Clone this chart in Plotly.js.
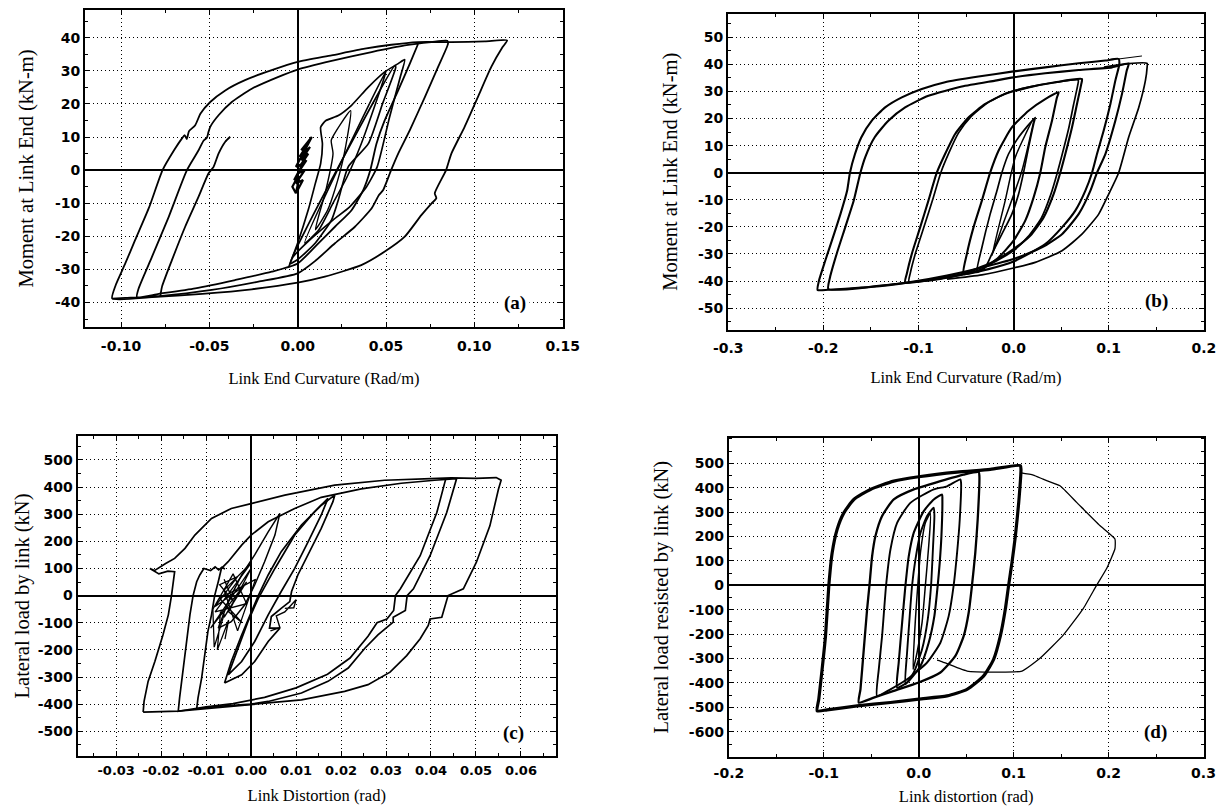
<!DOCTYPE html>
<html>
<head>
<meta charset="utf-8">
<script src="https://cdn.plot.ly/plotly-3.0.1.min.js"></script>
<style>html,body{margin:0;padding:0;background:#fff;}#chart{width:1223px;height:810px;}</style>
</head>
<body>
<div id="chart"></div>
<script>
// ---------------- Panel (a): Moment vs Link End Curvature ----------------
const aOuterX = [-0.105,-0.103,-0.0976,-0.092,-0.084,-0.0765,-0.070,-0.0655,-0.064,-0.0628,-0.0615,-0.058,-0.055,-0.0495,-0.041,-0.0298,-0.0147,0,0.0192,0.038,0.053,0.068,0.087,0.106,0.1186,0.116,0.1096,0.102,0.0945,0.087,0.084,0.0776,0.0785,0.0757,0.070,0.0606,0.0493,0.036,0.0154,0,-0.026,-0.054,-0.0825,-0.105];
const aOuterY = [-38.8,-34.7,-28.2,-21.1,-11.1,0,6.0,9.6,10.6,9.4,11.8,13.6,17.1,20.6,24.1,27.2,30.2,32.7,34.7,36.7,37.9,38.7,38.7,38.9,39.2,37.2,31.2,22.1,13.1,5.0,0,-7.0,-8.5,-10.1,-13.6,-20.1,-24.6,-28.7,-32.2,-34.0,-36.0,-37.4,-38.4,-38.8];
const aMidX = [0.0682,0.0635,0.0569,0.0493,0.0446,0.0411,0.0371,0.0305,0.0211,0.0117,0,-0.0147,-0.0354,-0.058,-0.0787,-0.091,
  -0.090,-0.0825,-0.073,-0.0627,-0.0561,-0.0533,-0.0514,-0.0505,-0.0495,-0.0448,-0.0373,-0.026,-0.0109,0,0.0192,0.0418,0.0606,0.0757,0.0847,
  0.0851,0.0795,0.072,0.0635,0.0569,0.0529,0.0484,0.046,0.0445,0.0418,0.0324,0.0211,0.0098,0,-0.0222,-0.0486,-0.0768,-0.0976,-0.105];
const aMidY = [38.2,32.2,24.1,15.1,8.0,0,-6.0,-12.1,-17.1,-22.1,-28.2,-30.7,-33.2,-35.7,-37.4,-38.4,
  -35.7,-26.2,-14.1,0,6.0,8.9,9.8,11.5,13.1,16.6,20.6,24.6,28.2,30.4,33.0,35.7,37.7,38.7,39.1,
  38.2,31.2,22.1,12.1,5.0,0,-6.0,-7.5,-9.0,-11.6,-17.1,-22.1,-27.5,-31.2,-33.7,-36.2,-38.0,-38.6,-38.8];
const aPartialX = [-0.0778,-0.0768,-0.0712,-0.0637,-0.0561,-0.0505,-0.0476,-0.0448,-0.041,-0.0382];
const aPartialY = [-38.2,-35.2,-27.2,-17.1,-8.0,-1.0,1.0,5.0,8.6,10.1];
const aIn1X = [-0.005,0.000,0.006,0.010,0.013,0.014,0.013,0.016,0.023,0.0305,0.040,0.0493,0.0569,0.0606,0.058,0.052,0.045,0.039,0.0296,0.0201,0.007,-0.0026,-0.005];
const aIn1Y = [-29.2,-22,-12,-4,2,8,13,15,16.5,19.6,25.1,29.7,32.2,33.4,28,16,1,-5,-11,-15,-21,-26.2,-29.2];
const aIn2X = [-0.0043,0.0551,0.0555,0.048,0.040,0.0286,0.023,0.0192,0.010,0,-0.0043];
const aIn2Y = [-28.2,31.7,31.0,20,8,1,-9,-15,-22,-27,-28.2];
const aIn3X = [0.004,0.050,0.049,0.044,0.036,0.028,0.020,0.012,0.004];
const aIn3Y = [-22,30,28,20,8,-2,-10,-18,-22];
const aIn4X = [0.010,0.016,0.020,0.019,0.022,0.030,0.026,0.021,0.017,0.010];
const aIn4Y = [-18,-6,5,9,12,18,4,-6,-12,-18];
const aBlobX = [0.000,0.003,-0.001,0.004,0.000,0.005,0.001,0.006,0.002,0.007,0.003,0.008,0.002,0.006,0.001,0.004,-0.001,0.003,-0.002,0.001,-0.001,-0.003,0.000];
const aBlobY = [-6,-3,-4,0,-1,3,1,5,3,7,5,10,6,8,4,6,1,2,-3,-2,-7,-5,-2];

// ---------------- Panel (b): Moment vs Link End Curvature ----------------
const bLoop1X = [-0.206,-0.2046,-0.198,-0.191,-0.182,-0.175,-0.172,-0.1667,-0.16,-0.149,-0.135,-0.1175,-0.0965,-0.072,-0.0368,0,0.0333,0.0684,0.0965,0.1105,0.1112,0.107,0.1018,0.0947,0.0877,0.0825,0.0754,0.0649,0.0509,0.0333,0.0158,0,-0.0263,-0.0544,-0.0895,-0.1246,-0.1596,-0.1947,-0.206];
const bLoop1Y = [-43.3,-39.9,-32.5,-25.1,-15.3,-6.7,0,6.9,13.1,19.2,24.1,27.8,30.9,33.4,35.5,37.4,38.9,40.4,41.4,42.0,40.1,34.0,25.4,15.5,6.9,0,-6.7,-14.0,-20.2,-26.4,-30.0,-32.8,-35.6,-37.7,-39.7,-41.1,-42.4,-43.2,-43.3];
const bLoop2X = [-0.1947,-0.193,-0.186,-0.177,-0.168,-0.161,-0.156,-0.146,-0.1316,-0.114,-0.0895,-0.0544,-0.0193,0,0.0333,0.0684,0.1035,0.121,0.119,0.114,0.107,0.0965,0.0877,0.0807,0.0684,0.0509,0.0298,0,-0.0333,-0.07,-0.11,-0.15,-0.1947];
const bLoop2Y = [-43.0,-38.7,-30.0,-20.2,-10.3,0,5.7,13.1,19.2,24.1,28.4,31.8,34.0,35.2,36.7,37.9,38.9,40.3,37.7,29.1,19.2,6.9,0,-6.7,-15.3,-22.7,-27.6,-31.9,-35.0,-38.0,-40.5,-42.2,-43.0];
const bLoop3X = [0.095,0.121,0.1404,0.1404,0.1386,0.1316,0.121,0.1105,0.1,0.0895,0.0719,0.0509,0.0228,0,-0.0333,-0.07];
const bLoop3Y = [39.0,40.3,40.4,39.0,34.0,24.1,13.1,0,-7.9,-15.3,-22.7,-28.8,-33.1,-35.2,-37.7,-39.3];
const bTailX = [0.1105,0.135];
const bTailY = [42.0,43.1];
const bLoop4X = [-0.114,-0.1123,-0.107,-0.0982,-0.0895,-0.0807,-0.072,-0.0614,-0.0474,-0.0298,-0.0088,0.0158,0.0439,0.0719,0.0712,0.0667,0.0614,0.0544,0.0491,0.0421,0.0316,0.0175,0,-0.0228,-0.0544,-0.0895,-0.114];
const bLoop4Y = [-40.5,-37.4,-30.0,-20.2,-10.3,0,6.9,14.3,20.4,25.4,29.1,31.5,33.4,34.6,32.8,25.4,16.7,6.9,0,-7.9,-16.5,-23.3,-28.2,-33.1,-37.4,-39.7,-40.5];
const bLoop4bX = [-0.110,-0.1085,-0.103,-0.094,-0.085,-0.0765,-0.068,-0.058,-0.045,-0.028,-0.008,0.016,0.043,0.068,0.0675,0.063,0.058,0.051,0.046,0.039,0.029,0.015,0,-0.024,-0.056,-0.090,-0.110];
const bLoop4bY = [-40.2,-37.0,-29.6,-19.8,-9.9,0,7.3,14.6,20.6,25.6,29.3,31.6,33.3,34.2,32.4,25.0,16.4,6.6,0,-8.2,-16.9,-23.7,-28.8,-33.6,-37.8,-39.9,-40.2];
const bLoop5X = [-0.0526,-0.0491,-0.0421,-0.0333,-0.0246,-0.0158,-0.0018,0.0158,0.0333,0.0474,0.0456,0.0404,0.0333,0.0281,0.0211,0.0123,0,-0.0158,-0.0333,-0.0526];
const bLoop5Y = [-37.4,-30.0,-20.2,-10.3,0,8.1,16.7,22.9,27.2,29.7,27.8,19.2,9.4,0,-9.1,-17.7,-25.1,-31.3,-35.6,-37.4];
const bLoop6X = [-0.0386,-0.0333,-0.0246,-0.0175,-0.0123,-0.0053,0.0053,0.0228,0.0211,0.0158,0.0105,0.0053,-0.0018,-0.0123,-0.0228,-0.0298,-0.0386];
const bLoop6Y = [-36.8,-27.6,-15.3,-6.7,0,6.9,13.1,20.4,18.0,9.4,0,-7.9,-15.3,-22.7,-30.0,-35.0,-36.8];
const bLoop7X = [-0.0228,-0.0088,0.0018,0.021,0.0088,-0.0123,-0.0228];
const bLoop7Y = [-30.7,-10.3,5.7,19.8,0.7,-20.2,-30.7];

// ---------------- Panel (c): Lateral load vs Link Distortion ----------------
const cOuterX = [-0.024,-0.0238,-0.0229,-0.0214,-0.0196,-0.0184,-0.0177,-0.0171,-0.017,-0.0185,-0.0205,-0.0225,-0.0215,-0.019,-0.017,-0.0147,-0.0125,-0.0088,-0.0044,0,0.0075,0.0186,0.0297,0.04,0.0445,0.050,0.0545,0.0556,0.055,0.0531,0.0501,0.0472,0.0438,0.0424,0.0398,0.0394,0.0376,0.0346,0.0309,0.026,0.0208,0.0112,0,-0.0073,-0.0162,-0.024];
const cOuterY = [-429,-390,-316,-243,-145,-71,0,64,88,90,80,100,92,118,137,174,223,284,321,339,370,407,425,431,434,432,435,425,392,257,123,25,0,-80,-86,-110,-159,-221,-282,-328,-353,-384,-402,-412,-426,-429];
const cLoop2X = [-0.0121,-0.0118,-0.011,-0.0103,-0.0096,-0.0088,-0.0081,-0.0073,-0.0066,-0.0051,-0.0021,0,0.0038,0.0097,0.0156,0.0245,0.0334,0.0408,0.0457,0.0435,0.0398,0.0361,0.0347,0.0343,0.0316,0.0316,0.0282,0.0253,0.0216,0.0171,0.0112,0.0038,0,-0.0073,-0.0121];
const cLoop2Y = [-417,-377,-304,-218,-132,-71,0,51,100,125,186,223,272,321,362,393,414,425,431,306,147,25,0,-55,-80,-98,-145,-194,-267,-316,-359,-390,-400,-408,-417];
const cLoop3X = [0.0433,0.0413,0.0376,0.0332,0.0321,0.0317,0.0302,0.028,0.026,0.022,0.017,0.010,0.003,-0.004,-0.010,-0.0162,-0.0159,-0.0151,-0.0144,-0.0136,-0.0129,-0.0121,-0.0114,-0.0105,-0.009,-0.008,-0.0072,-0.0065,-0.0058];
const cLoop3Y = [431,306,147,25,0,-55,-86,-100,-150,-230,-290,-340,-375,-398,-410,-426,-377,-267,-169,-71,0,51,76,100,92,106,95,104,98];
const cIn1X = [-0.0059,-0.0044,-0.0021,0,0.0016,0.0038,0.0067,0.0112,0.0156,0.0186,0.0182,0.0156,0.0127,0.0104,0.009,0.0086,0.0067,0.0045,0.0041,0.0064,0.0038,0.0008,-0.0021,-0.0059];
const cIn1Y = [-322,-243,-145,-59,0,76,162,260,333,370,346,248,150,76,15,-22,-47,-77,-120,-120,-169,-243,-292,-322];
const cIn2X = [-0.0051,-0.0029,-0.0007,0.0016,0.0053,0.0097,0.0141,0.0171,0.0156,0.0127,0.0097,0.0067,0.0038,0.0008,-0.0021,-0.0051];
const cIn2Y = [-292,-194,-96,-10,100,223,309,358,297,199,100,15,-71,-169,-243,-292];
const cIn3X = [-0.0073,-0.0051,-0.0021,0.0008,0.0038,0.0064,0.0053,0.003,0.0008,-0.0014,-0.0044,-0.0073];
const cIn3Y = [-120,-22,76,150,235,303,223,125,39,-34,-96,-120];
const cNoiseX = [-0.006,-0.004,-0.007,-0.003,-0.008,-0.002,-0.006,-0.001,-0.009,-0.004,0.000,-0.005,-0.002,-0.007,0.001,-0.003,-0.006,0.000,-0.008,-0.001,-0.004,-0.0085,-0.0082,-0.006,-0.0068,-0.0075,-0.005,-0.0058];
const cNoiseY = [60,-20,40,70,-40,30,-80,50,-120,0,100,-60,-100,-10,60,-130,20,120,-60,-30,80,-50,-190,-70,-60,-200,-90,-160];
const cHookX = [0.0075,0.0095,0.0100,0.0075,0.0056,0.0064,0.0043];
const cHookY = [-47,-45,-15,-60,-75,-118,-130];

// ---------------- Panel (d): Lateral load resisted vs Link distortion ----------------
const dOuterX = [-0.107,-0.1053,-0.1018,-0.0982,-0.0947,-0.0912,-0.086,-0.0789,-0.0684,-0.0509,-0.0263,0,0.0404,0.0754,0.107,0.1077,0.1053,0.1018,0.0982,0.0947,0.0912,0.086,0.0789,0.0684,0.0509,0.0298,0,-0.0298,-0.0649,-0.0965,-0.107];
const dOuterY = [-514,-466,-344,-207,0,134,229,297,352,393,427,445,464,475,491,475,338,202,93,0,-98,-207,-303,-371,-426,-453,-466,-480,-494,-510,-514];
const dFailX = [0.1066,0.1207,0.131,0.1488,0.1663,0.1908,0.2067,0.2067,0.1978,0.1873,0.1733,0.1522,0.1277,0.1088,0.0509,0.0228,0.0193];
const dFailY = [462,452,435,408,340,245,190,150,68,0,-95,-204,-299,-351,-351,-310,-306];
const dLoop2X = [-0.0632,-0.0614,-0.0579,-0.0544,-0.0519,-0.0491,-0.0456,-0.0386,-0.0263,-0.0053,0.0228,0.0474,0.0632,0.0639,0.0621,0.0596,0.0561,0.0526,0.0474,0.0386,0.0228,0,-0.0263,-0.0474,-0.0632];
const dLoop2Y = [-480,-426,-262,-98,0,120,202,284,352,393,427,454,464,447,270,134,0,-112,-207,-289,-357,-398,-432,-460,-480];
const dLoop3X = [-0.0439,-0.0421,-0.0386,-0.0344,-0.0298,-0.0228,-0.0088,0.0158,0.0298,0.0439,0.0446,0.0432,0.0404,0.0368,0.0316,0.0228,0.0088,-0.0123,-0.0298,-0.0439];
const dLoop3Y = [-453,-344,-207,0,147,256,338,393,406,434,420,270,134,0,-125,-235,-316,-385,-426,-453];
const dLoop4X = [-0.0228,-0.0211,-0.0175,-0.014,-0.0105,-0.0053,0.0053,0.0158,0.0246,0.0249,0.0239,0.0221,0.02,0.0165,0.0105,0.0018,-0.0123,-0.0228];
const dLoop4Y = [-419,-316,-153,0,120,215,304,352,372,352,202,93,0,-125,-235,-330,-398,-419];
const dLoop5X = [-0.014,-0.0123,-0.0095,-0.007,-0.0035,0.0018,0.0088,0.0158,0.0165,0.0151,0.013,0.0095,0.0035,-0.0053,-0.014];
const dLoop5Y = [-405,-276,-125,0,106,215,284,318,284,161,0,-139,-262,-357,-405];
const dLoop6X = [-0.006,-0.0035,-0.001,0.0018,0.007,0.0123,0.0105,0.007,0.0035,-0.0018,-0.006];
const dLoop6Y = [-344,-139,0,134,256,295,161,0,-153,-276,-344];

// ---------------- Tick values / labels ----------------
const aXTicks = [-0.10, -0.05, 0.00, 0.05, 0.10, 0.15];
const aXLabels = ['-0.10', '-0.05', '0.00', '0.05', '0.10', '0.15'];
const aYTicks = [-40, -30, -20, -10, 0, 10, 20, 30, 40];
const aYLabels = ['-40', '-30', '-20', '-10', '0', '10', '20', '30', '40'];
const bXTicks = [-0.3, -0.2, -0.1, 0.0, 0.1, 0.2];
const bXLabels = ['-0.3', '-0.2', '-0.1', '0.0', '0.1', '0.2'];
const bYTicks = [-50, -40, -30, -20, -10, 0, 10, 20, 30, 40, 50];
const bYLabels = ['-50', '-40', '-30', '-20', '-10', '0', '10', '20', '30', '40', '50'];
const cXTicks = [-0.03, -0.02, -0.01, 0.00, 0.01, 0.02, 0.03, 0.04, 0.05, 0.06];
const cXLabels = ['-0.03', '-0.02', '-0.01', '0.00', '0.01', '0.02', '0.03', '0.04', '0.05', '0.06'];
const cYTicks = [-500, -400, -300, -200, -100, 0, 100, 200, 300, 400, 500];
const cYLabels = ['-500', '-400', '-300', '-200', '-100', '0', '100', '200', '300', '400', '500'];
const dXTicks = [-0.2, -0.1, 0.0, 0.1, 0.2, 0.3];
const dXLabels = ['-0.2', '-0.1', '0.0', '0.1', '0.2', '0.3'];
const dYTicks = [-600, -500, -400, -300, -200, -100, 0, 100, 200, 300, 400, 500];
const dYLabels = ['-600', '-500', '-400', '-300', '-200', '-100', '0', '100', '200', '300', '400', '500'];

const titles = {
  aX: 'Link End Curvature (Rad/m)', aY: 'Moment at Link End (kN-m)',
  bX: 'Link End Curvature (Rad/m)', bY: 'Moment at Link End (kN-m)',
  cX: 'Link Distortion (rad)', cY: 'Lateral load by link (kN)',
  dX: 'Link distortion (rad)', dY: 'Lateral load resisted by link (kN)'
};
const panelLabels = ['(a)', '(b)', '(c)', '(d)'];

// ---------------- Build figure ----------------
const W = 1223, H = 810;
function line(x, y, xa, ya, w, smooth) {
  const l = {color: '#000', width: w || 1.8};
  if (smooth) { l.shape = 'spline'; l.smoothing = smooth; }
  return {type: 'scatter', mode: 'lines', x: x, y: y, xaxis: xa, yaxis: ya, line: l, hoverinfo: 'skip'};
}
const S = 0.55;
const traces = [
  line(aOuterX, aOuterY, 'x', 'y', 1.8, S), line(aMidX, aMidY, 'x', 'y', 1.8, S), line(aPartialX, aPartialY, 'x', 'y', 1.8, S),
  line(aIn1X, aIn1Y, 'x', 'y', 1.7, S), line(aIn2X, aIn2Y, 'x', 'y', 1.7, S), line(aIn3X, aIn3Y, 'x', 'y', 1.6, S),
  line(aIn4X, aIn4Y, 'x', 'y', 1.4, S), line(aBlobX, aBlobY, 'x', 'y', 2.2),
  line(bLoop1X, bLoop1Y, 'x2', 'y2', 2.1, S), line(bLoop2X, bLoop2Y, 'x2', 'y2', 2.1, S), line(bLoop3X, bLoop3Y, 'x2', 'y2', 1.7, S),
  line(bTailX, bTailY, 'x2', 'y2', 1), line(bLoop4X, bLoop4Y, 'x2', 'y2', 2.1, S), line(bLoop4bX, bLoop4bY, 'x2', 'y2', 1.7, S),
  line(bLoop5X, bLoop5Y, 'x2', 'y2', 2.1, S), line(bLoop6X, bLoop6Y, 'x2', 'y2', 1.7, S), line(bLoop7X, bLoop7Y, 'x2', 'y2', 1.5, S),
  line(cOuterX, cOuterY, 'x3', 'y3', 1.7), line(cLoop2X, cLoop2Y, 'x3', 'y3', 1.7), line(cLoop3X, cLoop3Y, 'x3', 'y3', 1.7),
  line(cIn1X, cIn1Y, 'x3', 'y3', 1.7), line(cIn2X, cIn2Y, 'x3', 'y3', 1.7), line(cIn3X, cIn3Y, 'x3', 'y3', 1.5),
  line(cNoiseX, cNoiseY, 'x3', 'y3', 1.3), line(cHookX, cHookY, 'x3', 'y3', 1.4),
  line(dOuterX, dOuterY, 'x4', 'y4', 3.2, S), line(dFailX, dFailY, 'x4', 'y4', 1.3, 0.4), line(dLoop2X, dLoop2Y, 'x4', 'y4', 2.3, S),
  line(dLoop3X, dLoop3Y, 'x4', 'y4', 1.9, S), line(dLoop4X, dLoop4Y, 'x4', 'y4', 2.1, S), line(dLoop5X, dLoop5Y, 'x4', 'y4', 1.9, S),
  line(dLoop6X, dLoop6Y, 'x4', 'y4', 1.5, S)
];

const tickFont = {family: 'DejaVu Sans', size: 14, weight: 'bold', color: '#000'};
const titleFontX = {family: 'Liberation Serif', size: 16.5, color: '#000'};
const titleFontY = {family: 'Liberation Serif', size: 20.5, color: '#000'};
function ax(opts) {
  return Object.assign({
    showline: true, linecolor: '#000', linewidth: 2, mirror: 'allticks',
    ticks: 'inside', ticklen: 5, tickcolor: '#000', tickwidth: 1,
    showgrid: true, gridcolor: '#000', gridwidth: 1, griddash: '1px,3px',
    zeroline: true, zerolinecolor: '#000', zerolinewidth: 2,
    tickfont: tickFont, automargin: false, fixedrange: true, tickmode: 'array'
  }, opts);
}
function px2dx(a, b) { return [a / W, b / W]; }
function py2dy(top, bot) { return [1 - bot / H, 1 - top / H]; }
function minor(d) { return {dtick: d, tick0: 0, ticks: 'inside', ticklen: 3, tickcolor: '#000', showgrid: false}; }

const layout = {
  width: W, height: H, margin: {l: 0, r: 0, t: 0, b: 0},
  paper_bgcolor: '#fff', plot_bgcolor: '#fff', showlegend: false,
  xaxis: ax({domain: px2dx(85, 563), range: [-0.1204, 0.1502], tickvals: aXTicks, ticktext: aXLabels,
    minor: minor(0.025), ticklabelstandoff: 5,
    title: {text: titles.aX, font: titleFontX, standoff: 20}, anchor: 'y'}),
  yaxis: ax({domain: py2dy(10, 327), range: [-47.4, 48.4], tickvals: aYTicks, ticktext: aYLabels,
    minor: minor(5),
    title: {text: titles.aY, font: titleFontY, standoff: 16}, anchor: 'x'}),
  xaxis2: ax({domain: px2dx(728, 1204), range: [-0.3002, 0.2002], tickvals: bXTicks, ticktext: bXLabels,
    minor: minor(0.05), ticklabelstandoff: 5,
    title: {text: titles.bX, font: titleFontX, standoff: 16}, anchor: 'y2'}),
  yaxis2: ax({domain: py2dy(14, 329.5), range: [-57.9, 58.6], tickvals: bYTicks, ticktext: bYLabels,
    minor: minor(5),
    title: {text: titles.bY, font: titleFontY, standoff: 15}, anchor: 'x2'}),
  xaxis3: ax({domain: px2dx(77.5, 556), range: [-0.0386, 0.0678], tickvals: cXTicks, ticktext: cXLabels,
    tickfont: Object.assign({}, tickFont, {size: 13}),
    minor: minor(0.005), ticklabelstandoff: 1,
    title: {text: titles.cX, font: titleFontX, standoff: 13}, anchor: 'y3'}),
  yaxis3: ax({domain: py2dy(436, 756), range: [-591, 588], tickvals: cYTicks, ticktext: cYLabels,
    minor: minor(50),
    title: {text: titles.cY, font: titleFontY, standoff: 2}, anchor: 'x3'}),
  xaxis4: ax({domain: px2dx(728.7, 1203.7), range: [-0.2002, 0.3002], tickvals: dXTicks, ticktext: dXLabels,
    minor: minor(0.05), ticklabelstandoff: 2,
    title: {text: titles.dX, font: titleFontX, standoff: 11}, anchor: 'y4'}),
  yaxis4: ax({domain: py2dy(437.7, 756.7), range: [-702, 605], tickvals: dYTicks, ticktext: dYLabels,
    minor: minor(50),
    title: {text: titles.dY, font: titleFontY, standoff: 15}, anchor: 'x4'}),
  annotations: [
    [515, 303], [1156, 301], [513, 733], [1155, 732]
  ].map((p, i) => ({
    text: panelLabels[i], xref: 'paper', yref: 'paper', x: p[0] / W, y: 1 - p[1] / H,
    xanchor: 'center', yanchor: 'middle', showarrow: false, bgcolor: '#fff', borderpad: 3,
    font: {family: 'Liberation Serif', size: 19, weight: 'bold', color: '#000'}
  }))
};

Plotly.newPlot('chart', traces, layout, {staticPlot: true, displayModeBar: false});
</script>
</body>
</html>
